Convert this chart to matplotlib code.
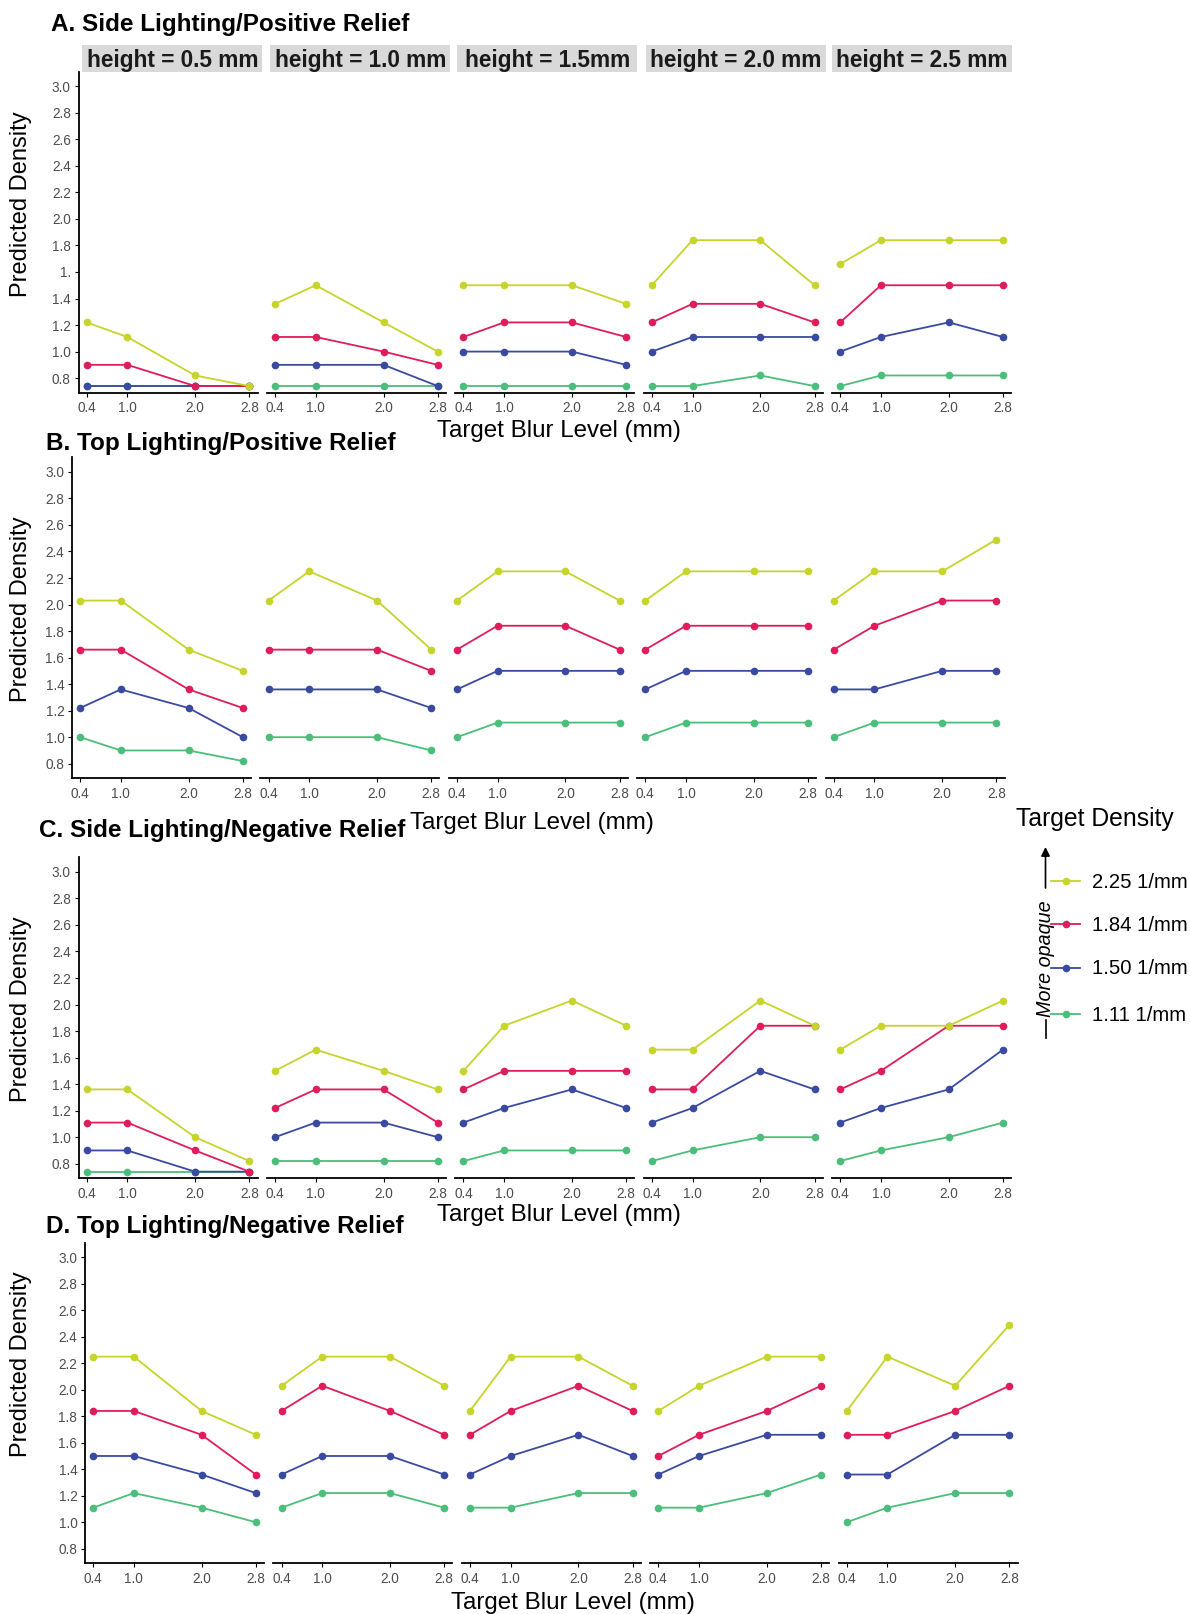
import matplotlib
matplotlib.use('Agg')
import matplotlib.pyplot as plt
from matplotlib.lines import Line2D
from matplotlib.patches import Rectangle
import numpy as np

plt.rcParams['font.family'] = ['Liberation Sans', 'DejaVu Sans']

W, H = 1190, 1614

# ---------------- data ----------------
blur = [0.4, 1.0, 2.0, 2.8]
blur_labels = ['0.4', '1.0', '2.0', '2.8']
heights = ['height = 0.5 mm', 'height = 1.0 mm', 'height = 1.5mm',
           'height = 2.0 mm', 'height = 2.5 mm']
density_labels = ['2.25 1/mm', '1.84 1/mm', '1.50 1/mm', '1.11 1/mm']
density_colors = ['#C6D42C', '#DF1D5A', '#3A4AA0', '#4BBE7B']
y_ticks = [0.8, 1.0, 1.2, 1.4, 1.6, 1.8, 2.0, 2.2, 2.4, 2.6, 2.8, 3.0]
y_tick_labels_A = ['0.8', '1.0', '1.2', '1.4', '1.', '1.8', '2.0', '2.2', '2.4', '2.6', '2.8', '3.0']
y_tick_labels = ['0.8', '1.0', '1.2', '1.4', '1.6', '1.8', '2.0', '2.2', '2.4', '2.6', '2.8', '3.0']

# Panel A: Side Lighting / Positive Relief  (one list per height facet)
A_225 = [[1.22, 1.11, 0.82, 0.74], [1.36, 1.50, 1.22, 1.00], [1.50, 1.50, 1.50, 1.36],
         [1.50, 1.84, 1.84, 1.50], [1.66, 1.84, 1.84, 1.84]]
A_184 = [[0.90, 0.90, 0.74, 0.74], [1.11, 1.11, 1.00, 0.90], [1.11, 1.22, 1.22, 1.11],
         [1.22, 1.36, 1.36, 1.22], [1.22, 1.50, 1.50, 1.50]]
A_150 = [[0.74, 0.74, 0.74, 0.74], [0.90, 0.90, 0.90, 0.74], [1.00, 1.00, 1.00, 0.90],
         [1.00, 1.11, 1.11, 1.11], [1.00, 1.11, 1.22, 1.11]]
A_111 = [[0.74, 0.74, 0.74, 0.74], [0.74, 0.74, 0.74, 0.74], [0.74, 0.74, 0.74, 0.74],
         [0.74, 0.74, 0.82, 0.74], [0.74, 0.82, 0.82, 0.82]]

# Panel B: Top Lighting / Positive Relief
B_225 = [[2.03, 2.03, 1.66, 1.50], [2.03, 2.25, 2.03, 1.66], [2.03, 2.25, 2.25, 2.03],
         [2.03, 2.25, 2.25, 2.25], [2.03, 2.25, 2.25, 2.49]]
B_184 = [[1.66, 1.66, 1.36, 1.22], [1.66, 1.66, 1.66, 1.50], [1.66, 1.84, 1.84, 1.66],
         [1.66, 1.84, 1.84, 1.84], [1.66, 1.84, 2.03, 2.03]]
B_150 = [[1.22, 1.36, 1.22, 1.00], [1.36, 1.36, 1.36, 1.22], [1.36, 1.50, 1.50, 1.50],
         [1.36, 1.50, 1.50, 1.50], [1.36, 1.36, 1.50, 1.50]]
B_111 = [[1.00, 0.90, 0.90, 0.82], [1.00, 1.00, 1.00, 0.90], [1.00, 1.11, 1.11, 1.11],
         [1.00, 1.11, 1.11, 1.11], [1.00, 1.11, 1.11, 1.11]]

# Panel C: Side Lighting / Negative Relief
C_225 = [[1.36, 1.36, 1.00, 0.82], [1.50, 1.66, 1.50, 1.36], [1.50, 1.84, 2.03, 1.84],
         [1.66, 1.66, 2.03, 1.84], [1.66, 1.84, 1.84, 2.03]]
C_184 = [[1.11, 1.11, 0.90, 0.74], [1.22, 1.36, 1.36, 1.11], [1.36, 1.50, 1.50, 1.50],
         [1.36, 1.36, 1.84, 1.84], [1.36, 1.50, 1.84, 1.84]]
C_150 = [[0.90, 0.90, 0.74, 0.74], [1.00, 1.11, 1.11, 1.00], [1.11, 1.22, 1.36, 1.22],
         [1.11, 1.22, 1.50, 1.36], [1.11, 1.22, 1.36, 1.66]]
C_111 = [[0.74, 0.74, 0.74, 0.74], [0.82, 0.82, 0.82, 0.82], [0.82, 0.90, 0.90, 0.90],
         [0.82, 0.90, 1.00, 1.00], [0.82, 0.90, 1.00, 1.11]]

# Panel D: Top Lighting / Negative Relief
D_225 = [[2.25, 2.25, 1.84, 1.66], [2.03, 2.25, 2.25, 2.03], [1.84, 2.25, 2.25, 2.03],
         [1.84, 2.03, 2.25, 2.25], [1.84, 2.25, 2.03, 2.49]]
D_184 = [[1.84, 1.84, 1.66, 1.36], [1.84, 2.03, 1.84, 1.66], [1.66, 1.84, 2.03, 1.84],
         [1.50, 1.66, 1.84, 2.03], [1.66, 1.66, 1.84, 2.03]]
D_150 = [[1.50, 1.50, 1.36, 1.22], [1.36, 1.50, 1.50, 1.36], [1.36, 1.50, 1.66, 1.50],
         [1.36, 1.50, 1.66, 1.66], [1.36, 1.36, 1.66, 1.66]]
D_111 = [[1.11, 1.22, 1.11, 1.00], [1.11, 1.22, 1.22, 1.11], [1.11, 1.11, 1.22, 1.22],
         [1.11, 1.11, 1.22, 1.36], [1.00, 1.11, 1.22, 1.22]]

panel_titles = ['A. Side Lighting/Positive Relief', 'B. Top Lighting/Positive Relief',
                'C. Side Lighting/Negative Relief', 'D. Top Lighting/Negative Relief']

# ---------------- layout (pixels) ----------------
panels = [
    dict(data=[A_225, A_184, A_150, A_111], left=78.5, top=71.7, bottom=392.7,
         title_xy=(51, 30.5), xlab_xy=(559, 431), ylab_xy=(21, 204), ylabels=y_tick_labels_A),
    dict(data=[B_225, B_184, B_150, B_111], left=72.0, top=457.3, bottom=778.3,
         title_xy=(46, 450), xlab_xy=(532, 823), ylab_xy=(21, 609), ylabels=y_tick_labels),
    dict(data=[C_225, C_184, C_150, C_111], left=78.5, top=857.3, bottom=1178.3,
         title_xy=(39, 836.5), xlab_xy=(559, 1215), ylab_xy=(21, 1009), ylabels=y_tick_labels),
    dict(data=[D_225, D_184, D_150, D_111], left=85.0, top=1242.7, bottom=1563.3,
         title_xy=(46, 1233.5), xlab_xy=(573, 1603), ylab_xy=(21, 1364), ylabels=y_tick_labels),
]
facet_w = 179.0
facet_pitch = 188.4
tick_col = '#4D4D4D'

fig = plt.figure(figsize=(W / 100, H / 100), dpi=100)

for p in panels:
    for i in range(5):
        x0 = p['left'] + i * facet_pitch
        ax = fig.add_axes([x0 / W, 1 - p['bottom'] / H, facet_w / W, (p['bottom'] - p['top']) / H])
        ax.set_xlim(0.28, 2.92)
        ax.set_ylim(0.69, 3.11)
        ax.patch.set_alpha(0)
        for s in ['top', 'right']:
            ax.spines[s].set_visible(False)
        ax.spines['bottom'].set_linewidth(1.3)
        ax.spines['left'].set_linewidth(1.3)
        ax.set_xticks(blur)
        ax.set_xticklabels(blur_labels)
        ax.tick_params(axis='x', length=3, width=0.8, pad=3, labelsize=9.8, labelcolor=tick_col)
        if i == 0:
            ax.set_yticks(y_ticks)
            ax.set_yticklabels(p['ylabels'])
            ax.tick_params(axis='y', length=3, width=0.8, pad=2.5, labelsize=9.8, labelcolor=tick_col)
        else:
            ax.spines['left'].set_visible(False)
            ax.set_yticks([])
        # draw order: 1.11, 1.50, 1.84, 2.25
        for k in [3, 2, 1, 0]:
            ax.plot(blur, p['data'][k][i], color=density_colors[k], lw=1.3,
                    marker='o', ms=5.5, mew=0, clip_on=False, zorder=3 + (3 - k))

# ---------------- overlay for text / strips / legend ----------------
ov = fig.add_axes([0, 0, 1, 1])
ov.set_xlim(0, W)
ov.set_ylim(H, 0)
ov.axis('off')

strip_x = [82.3, 270.2, 457.3, 645.5, 831.9]
for sx, lab in zip(strip_x, heights):
    ov.add_patch(Rectangle((sx, 45), 180, 26.7, facecolor='#D9D9D9', edgecolor='none'))
    ov.text(sx + 90, 66.5, lab, ha='center', va='baseline', fontsize=16.3,
            fontweight='bold', color='#1A1A1A')

for p, t in zip(panels, panel_titles):
    ov.text(p['title_xy'][0], p['title_xy'][1], t, ha='left', va='baseline',
            fontsize=17.5, fontweight='bold')
    ov.text(p['xlab_xy'][0], p['xlab_xy'][1], 'Target Blur Level (mm)', ha='center',
            va='center', fontsize=17.4)
    ov.text(p['ylab_xy'][0], p['ylab_xy'][1], 'Predicted Density', ha='center',
            va='center', rotation=90, fontsize=17)

# legend
ov.text(1016, 819, 'Target Density', ha='left', va='center', fontsize=17.8)
leg_y = [881, 924.3, 967.7, 1014.3]
for yy, lab, c in zip(leg_y, density_labels, density_colors):
    ov.add_line(Line2D([1051, 1080], [yy, yy], color=c, lw=1.3))
    ov.add_line(Line2D([1065.5], [yy], color=c, marker='o', ms=5.5, mew=0))
    ov.text(1092, yy + 1, lab, ha='left', va='center', fontsize=14.6)

ov.annotate('', xy=(1045.5, 847), xytext=(1045.5, 888),
            arrowprops=dict(arrowstyle='-|>', color='black', lw=1.2, mutation_scale=13,
                            shrinkA=0, shrinkB=0))
ov.add_line(Line2D([1045.5, 1045.5], [1020, 1038], color='black', lw=1.2))
ov.text(1045.5, 959, 'More opaque', rotation=90, ha='center', va='center',
        fontsize=14.2, style='italic')

fig.savefig('out.png', dpi=100)
